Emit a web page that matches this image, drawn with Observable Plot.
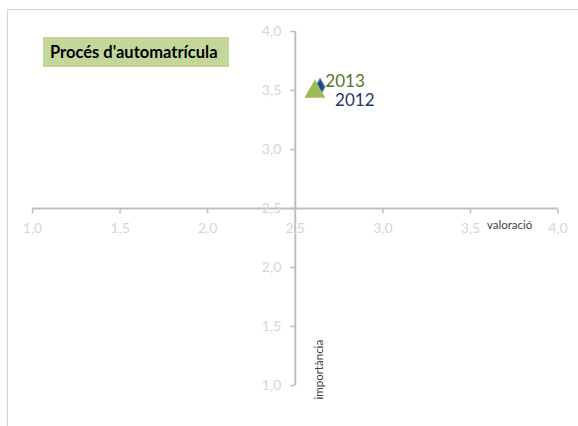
<!DOCTYPE html>
<html>
<head>
<meta charset="utf-8">
<script src="https://cdn.jsdelivr.net/npm/d3@7"></script>
<script src="https://cdn.jsdelivr.net/npm/@observablehq/plot@0.6"></script>
<style>
  html, body { margin: 0; padding: 0; background: #fff; }
  #wrap { position: relative; width: 578px; height: 426px; overflow: hidden; font-family: Lato, "Open Sans", sans-serif; }
  #frame { position: absolute; left: 6.5px; top: 8.5px; width: 600px; height: 440px; border-left: 1.5px solid #d4d4d4; border-top: 1.5px solid #d4d4d4; }
  #title { position: absolute; left: 43px; top: 37px; width: 186px; height: 30px; background: #c4d79b; font-weight: bold; font-size: 16.5px; line-height: 31px; padding-left: 7px; box-sizing: border-box; color: #000; white-space: nowrap; }
  #chart { position: absolute; left: 0; top: 0; }
</style>
</head>
<body>
<div id="wrap">
  <div id="frame"></div>
  <div id="chart"></div>
  <div id="title">Procés d'automatrícula</div>
</div>
<script>
// Data
const series = ["2012", "2013"];
const valoracio = [2.642, 2.612];
const importancia = [3.53, 3.49];
const xTicks = [1, 1.5, 2, 2.5, 3, 3.5, 4];
const yTicks = [1, 1.5, 2, 2.5, 3, 3.5, 4];
const tickLabels = ["1,0", "1,5", "2,0", "2,5", "3,0", "3,5", "4,0"];
const xTitle = "valoració";
const yTitle = "importància";

const points = series.map((s, i) => ({ serie: s, x: valoracio[i], y: importancia[i] }));
const axisColor = "#bfbfbf";
const labelColor = "#d6d6d6";

const tickDown = { draw(ctx) { ctx.moveTo(0, 0); ctx.lineTo(0, 5); } };
const tickLeft = { draw(ctx) { ctx.moveTo(0, 0); ctx.lineTo(-5, 0); } };

const chart = Plot.plot({
  width: 578,
  height: 426,
  marginLeft: 32,
  marginRight: 20.5,
  marginTop: 31,
  marginBottom: 41,
  style: { fontFamily: "Lato, 'Open Sans', sans-serif", background: "transparent" },
  x: { domain: [1, 4], axis: null },
  y: { domain: [1, 4], axis: null },
  marks: [
    Plot.ruleY([2.5], { x1: 1, x2: 4, stroke: axisColor, strokeWidth: 2 }),
    Plot.ruleX([2.5], { y1: 1, y2: 4, stroke: axisColor, strokeWidth: 2 }),
    Plot.dot(xTicks, { x: d => d, y: () => 2.5, symbol: tickDown, stroke: axisColor, strokeWidth: 1.5, r: 3 }),
    Plot.dot(yTicks, { x: () => 2.5, y: d => d, symbol: tickLeft, stroke: axisColor, strokeWidth: 1.5, r: 3 }),
    Plot.text(xTicks, { x: d => d, y: () => 2.5, text: (d, i) => tickLabels[i], dy: 20, fill: labelColor, fontSize: 14 }),
    Plot.text(yTicks, { x: () => 2.5, y: d => d, text: (d, i) => tickLabels[i], dx: -14, textAnchor: "end", fill: labelColor, fontSize: 14 }),
    Plot.text([xTitle], { x: () => 3.5, y: () => 2.5, text: d => d, dx: 16.5, dy: 17, textAnchor: "start", fill: "#404040", fontSize: 11.5 }),
    Plot.text([yTitle], { x: () => 2.5, y: () => 1, text: d => d, dx: 24, dy: 14, rotate: -90, textAnchor: "start", fill: "#404040", fontSize: 11.5 }),
    Plot.dot(points.filter(d => d.serie === "2012"), { x: "x", y: "y", symbol: "diamond", r: 5, fill: "#1f497d", stroke: "#4f81bd", strokeWidth: 1.2 }),
    Plot.dot(points.filter(d => d.serie === "2013"), { x: "x", y: "y", symbol: "triangle", r: 7.8, fill: "#9bbb59" }),
    Plot.text(points.filter(d => d.serie === "2013"), { x: "x", y: "y", text: "serie", dx: 10.5, dy: -10.5, textAnchor: "start", fill: "#56722a", fontSize: 17 }),
    Plot.text(points.filter(d => d.serie === "2012"), { x: "x", y: "y", text: "serie", dx: 15, dy: 13.5, textAnchor: "start", fill: "#1f3864", fontSize: 17 })
  ]
});
document.getElementById("chart").appendChild(chart);
</script>
</body>
</html>
